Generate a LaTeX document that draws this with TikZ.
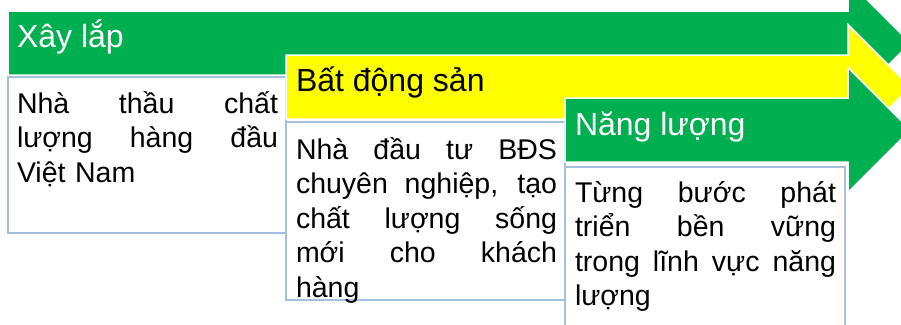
\documentclass[tikz,border=0pt]{standalone}
\usepackage{fontspec}
\setmainfont{Liberation Sans}
\usetikzlibrary{positioning}
\definecolor{stepgreen}{RGB}{0,176,80}
\definecolor{stepyellow}{RGB}{255,255,0}
\definecolor{boxline}{RGB}{166,191,222}
\newcommand{\fillline}[1]{\makebox[\hsize][s]{\spaceskip=.278em plus 1fil\relax #1}}

\begin{document}
\begin{tikzpicture}[x=1pt, y=-1pt, outer sep=0pt,
    steparrow/.style={draw=white, line width=1.5pt, line join=miter},
    headtext/.style={anchor=base west, inner sep=0pt, font=\fontsize{32}{38}\selectfont},
    descbox/.style={rectangle, draw=boxline, line width=2pt, fill=white, anchor=north west, inner sep=0pt},
    desctext/.style={anchor=base west, inner sep=0pt, text width=261pt, align=left, font=\fontsize{28.5}{34.5}\selectfont}]
    \path[use as bounding box, clip] (0,0) rectangle (901,324);

    % step 1
    \path[steparrow, fill=stepgreen] (8,11) -- (848,11) -- (848,-19.5) -- (910.5,43) -- (848,105.5) -- (848,75) -- (8,75) -- cycle;
    \node (xaylap) [headtext, text=white] at (17,47.5) {Xây lắp};
    \node (xaylap box) [descbox, minimum width=278pt, minimum height=156pt] at (8,77) {};
    \node (xaylap text) [desctext] at (17,113) {\fillline{Nhà thầu chất}\\\fillline{lượng hàng đầu}\\Việt Nam};

    % step 2
    \path[steparrow, fill=stepyellow] (286,55) -- (848,55) -- (848,24.5) -- (910.5,87) -- (848,149.5) -- (848,119) -- (286,119) -- cycle;
    \node (batdongsan) [headtext, text=black] at (296,91) {Bất động sản};
    \node (batdongsan box) [descbox, minimum width=279pt, minimum height=178pt] at (286,122) {};
    \node (batdongsan text) [desctext] at (296,159) {\fillline{Nhà đầu tư BĐS}\\\fillline{chuyên nghiệp, tạo}\\\fillline{chất lượng sống}\\\fillline{mới cho khách}\\hàng};

    % step 3
    \path[steparrow, fill=stepgreen] (565,98) -- (848,98) -- (848,67.5) -- (910.5,130) -- (848,192.5) -- (848,162) -- (565,162) -- cycle;
    \node (nangluong) [headtext, text=white] at (575,135) {Năng lượng};
    \node (nangluong box) [descbox, minimum width=280pt, minimum height=180pt] at (565,167) {};
    \node (nangluong text) [desctext] at (575,202) {\fillline{Từng bước phát}\\\fillline{triển bền vững}\\\fillline{trong lĩnh vực năng}\\lượng};
\end{tikzpicture}
\end{document}
